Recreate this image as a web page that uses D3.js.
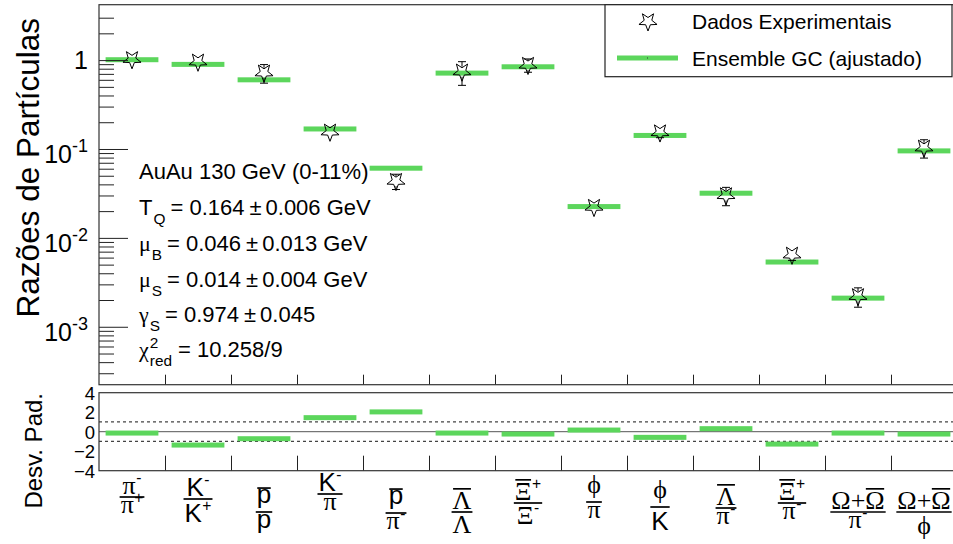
<!DOCTYPE html>
<html>
<head>
<meta charset="utf-8">
<script src="https://cdn.jsdelivr.net/npm/d3@7"></script>
<style>
  body { margin: 0; background: #fff; }
  svg { display: block; }
  text { font-family: "Liberation Sans", Arial, sans-serif; fill: #000; }
  .greek { font-family: "Liberation Serif", "Times New Roman", serif; }
</style>
</head>
<body>
<svg id="chart" width="953" height="544"></svg>
<script>
// ---- particle ratios (x categories), numerator / denominator pieces ----
const ratioNumerators = [
  [{ t: "π", g: 1, sup: "-" }],
  [{ t: "K", sup: "-" }],
  [{ t: "p", bar: 1 }],
  [{ t: "K", sup: "-" }],
  [{ t: "p", bar: 1 }],
  [{ t: "Λ", g: 1, bar: 1 }],
  [{ t: "Ξ", g: 1, bar: 1, sup: "+" }],
  [{ t: "ϕ", g: 1 }],
  [{ t: "ϕ", g: 1 }],
  [{ t: "Λ", g: 1, bar: 1 }],
  [{ t: "Ξ", g: 1, bar: 1, sup: "+" }],
  [{ t: "Ω", g: 1 }, { t: "+", g: 1 }, { t: "Ω", g: 1, bar: 1 }],
  [{ t: "Ω", g: 1 }, { t: "+", g: 1 }, { t: "Ω", g: 1, bar: 1 }]
];
const ratioDenominators = [
  [{ t: "π", g: 1, sup: "+" }],
  [{ t: "K", sup: "+" }],
  [{ t: "p" }],
  [{ t: "π", g: 1 }],
  [{ t: "π", g: 1, sup: "-" }],
  [{ t: "Λ", g: 1 }],
  [{ t: "Ξ", g: 1, sup: "-" }],
  [{ t: "π", g: 1 }],
  [{ t: "K" }],
  [{ t: "π", g: 1, sup: "-" }],
  [{ t: "π", g: 1, sup: "-" }],
  [{ t: "π", g: 1, sup: "-" }],
  [{ t: "ϕ", g: 1 }]
];

// ---- values ----
const modelRatios = [1.01, 0.895, 0.60, 0.168, 0.0608, 0.714, 0.841, 0.0225, 0.142, 0.0318, 0.00535, 0.0021, 0.0952];
const dataRatios  = [1.02, 0.957, 0.72, 0.156, 0.0435, 0.74, 0.88, 0.0222, 0.153, 0.030, 0.00644, 0.0022, 0.103];
const dataErrors  = [0.07, 0.045, 0.17, 0.008, 0.0085, 0.22, 0.15, 0.0018, 0.019, 0.007, 0.00086, 0.00054, 0.024];
const deviations  = [-0.14, -1.37, -0.72, 1.44, 2.03, -0.14, -0.24, 0.17, -0.58, 0.31, -1.27, -0.14, -0.24];

// ---- axis ticks ----
const logMajorTicks = [1, 0.1, 0.01, 0.001];
const logMajorExponents = ["", "-1", "-2", "-3"];
const devTickValues = [4, 2, 0, -2, -4];
const devBands = [1, -1];

// ---- fit summary text ----
const fitLines = [
  [{ t: "AuAu 130 GeV (0-11%)" }],
  [{ t: "T" }, { sub: "Q" }, { t: "= 0.164", gap: 5 }, { t: "±", gap: 5 }, { t: "0.006 GeV", gap: 4 }],
  [{ t: "μ", g: 1 }, { sub: "B" }, { t: "= 0.046", gap: 5 }, { t: "±", gap: 5 }, { t: "0.013 GeV", gap: 4 }],
  [{ t: "μ", g: 1 }, { sub: "S" }, { t: "= 0.014", gap: 5 }, { t: "±", gap: 5 }, { t: "0.004 GeV", gap: 4 }],
  [{ t: "γ", g: 1 }, { sub: "S" }, { t: "= 0.974", gap: 5 }, { t: "±", gap: 5 }, { t: "0.045", gap: 4 }],
  [{ t: "χ", g: 1 }, { sup: "2", sub: "red" }, { t: "= 10.258/9", gap: 6 }]
];

const legendEntries = ["Dados Experimentais", "Ensemble GC (ajustado)"];

// ---- layout ----
const GREEN = "#5cd65c";
const frame = { left: 99, right: 957, top: 4.7, bottom: 384.7 };
const pad2 = { top: 392.7, bottom: 470.7 };
const fracLineY = [497, 499, 512, 494, 513, 512, 503, 502, 507, 508, 503, 512, 512];

const svg = d3.select("#chart");
svg.append("rect").attr("width", 953).attr("height", 544).attr("fill", "#fff");

const n = modelRatios.length;
const x = d3.scaleBand().domain(d3.range(n)).range([frame.left, frame.right]).padding(0);
const xEdge = d3.scaleLinear().domain([0, n]).range([frame.left, frame.right]);
const y = d3.scaleLog().domain([2.23e-4, 4.2]).range([frame.bottom, frame.top]);
const yd = d3.scaleLinear().domain([-4, 4]).range([pad2.bottom, pad2.top]);
const bw = x.bandwidth();

// ---------- upper panel ----------
const upper = svg.append("g");

// model bars
upper.selectAll("rect.model").data(modelRatios).join("rect")
  .attr("class", "model")
  .attr("x", (d, i) => x(i) + 0.1 * bw)
  .attr("width", 0.8 * bw)
  .attr("y", d => y(d) - 2.5)
  .attr("height", 5)
  .attr("fill", GREEN);

// star marker (open, one point down)
function starPath(r) {
  const ri = r * 0.42, pts = [];
  for (let k = 0; k < 10; k++) {
    const a = Math.PI / 2 + k * Math.PI / 5;
    const rr = k % 2 === 0 ? r : ri;
    pts.push([rr * Math.cos(a), rr * Math.sin(a)]);
  }
  return "M" + pts.map(p => p[0].toFixed(2) + "," + p[1].toFixed(2)).join("L") + "Z";
}
const STAR = starPath(9.5);

// error bars, kept clear of the marker body
const gap = 5, cap = 4;
dataRatios.forEach((v, i) => {
  const cx = x(i) + bw / 2, cy = y(v);
  const yHi = y(v + dataErrors[i]), yLo = y(Math.max(v - dataErrors[i], 1e-6));
  const eg = upper.append("g").attr("stroke", "#000").attr("stroke-width", 1);
  if (cy - yHi > gap) {
    eg.append("line").attr("x1", cx).attr("x2", cx).attr("y1", cy - gap).attr("y2", yHi);
    eg.append("line").attr("x1", cx - cap).attr("x2", cx + cap).attr("y1", yHi).attr("y2", yHi);
  }
  if (yLo - cy > gap) {
    eg.append("line").attr("x1", cx).attr("x2", cx).attr("y1", cy + gap).attr("y2", yLo);
    eg.append("line").attr("x1", cx - cap).attr("x2", cx + cap).attr("y1", yLo).attr("y2", yLo);
  }
});

upper.selectAll("path.star").data(dataRatios).join("path")
  .attr("class", "star")
  .attr("d", STAR)
  .attr("transform", (d, i) => `translate(${x(i) + bw / 2},${y(d)})`)
  .attr("fill", "none").attr("stroke", "#000").attr("stroke-width", 1);

// log axis ticks (inside the frame)
const minorTicks = [];
for (let e = -4; e <= 0; e++) for (let m = 2; m <= 9; m++) {
  const v = m * Math.pow(10, e);
  if (v > y.domain()[0] && v < 3.5) minorTicks.push(v);
}
const axMinor = upper.append("g").attr("transform", `translate(${frame.left},0)`)
  .call(d3.axisRight(y).tickValues(minorTicks).tickSize(15).tickFormat(""));
const axMajor = upper.append("g").attr("transform", `translate(${frame.left},0)`)
  .call(d3.axisRight(y).tickValues(logMajorTicks).tickSize(29).tickFormat(""));
[axMinor, axMajor].forEach(a => {
  a.select(".domain").remove();
  a.selectAll("line").attr("stroke", "#222").attr("stroke-width", 1);
});

// major tick labels: 1, 10^-1, ...
logMajorTicks.forEach((v, i) => {
  const ty = y(v);
  if (!logMajorExponents[i]) {
    upper.append("text").attr("x", 88).attr("y", ty + 9)
      .attr("text-anchor", "end").attr("font-size", 25).text("1");
  } else {
    const t = upper.append("text").attr("x", 88).attr("y", ty + 14)
      .attr("text-anchor", "end").attr("font-size", 25);
    t.append("tspan").text("10");
    t.append("tspan").attr("font-size", 18).attr("dy", -11).text(logMajorExponents[i]);
  }
});

// bin-edge ticks on lower edge of upper panel
const axTopBins = upper.append("g").attr("transform", `translate(0,${frame.bottom})`)
  .call(d3.axisTop(xEdge).tickValues(d3.range(1, n)).tickSize(10).tickFormat(""));
axTopBins.select(".domain").remove();
axTopBins.selectAll("line").attr("stroke", "#222");

// frame
upper.append("rect").attr("x", frame.left).attr("y", frame.top)
  .attr("width", frame.right - frame.left).attr("height", frame.bottom - frame.top)
  .attr("fill", "none").attr("stroke", "#333").attr("stroke-width", 1.2);

// y title
svg.append("text")
  .attr("transform", "translate(39,18) rotate(-90)")
  .attr("text-anchor", "end").attr("font-size", 31.5)
  .text("Razões de Partículas");

// ---------- rich text helper ----------
function glyphTop(ch) {
  if ("πp".includes(ch)) return 0.48;
  if ("ϕ".includes(ch)) return 0.68;
  if ("ΛΞΩ".includes(ch)) return 0.66;
  return 0.72;
}
function glyphDrop(parts) {
  return parts.some(p => p.t && "pϕ".includes(p.t)) ? 0.21 : 0;
}
function richRow(g, parts, x0, base, fs) {
  let cx = x0;
  parts.forEach(p => {
    cx += p.gap || 0;
    if (p.t) {
      const el = g.append("text").attr("x", cx).attr("y", base).attr("font-size", fs)
        .attr("class", p.g ? "greek" : null).text(p.t);
      const w = el.node().getComputedTextLength();
      if (p.bar) {
        const ly = base - fs * glyphTop(p.t) - 2.5;
        g.append("line").attr("x1", cx + 0.5).attr("x2", cx + w - 0.5)
          .attr("y1", ly).attr("y2", ly).attr("stroke", "#000").attr("stroke-width", 1.7);
      }
      cx += w;
      if (p.sup) {
        const s = g.append("text").attr("x", cx + 0.5).attr("y", base - fs * 0.42)
          .attr("font-size", fs * 0.6).text(p.sup);
        cx += s.node().getComputedTextLength() + 0.5;
      }
    } else {
      // bare sub/superscript attached to the previous glyph
      let sw = 0;
      if (p.sup) {
        const s = g.append("text").attr("x", cx + 1).attr("y", base - fs * 0.42)
          .attr("font-size", fs * 0.7).text(p.sup);
        sw = Math.max(sw, s.node().getComputedTextLength() + 1);
      }
      if (p.sub) {
        const s = g.append("text").attr("x", cx + 1).attr("y", base + fs * 0.4)
          .attr("font-size", fs * 0.7).text(p.sub);
        sw = Math.max(sw, s.node().getComputedTextLength() + 1);
      }
      cx += sw;
    }
  });
  return cx - x0;
}

// fit summary
const info = svg.append("g");
const infoBase = [179, 215, 251, 287, 322, 357];
fitLines.forEach((parts, i) => richRow(info, parts, 139, infoBase[i], 22));

// legend
const leg = svg.append("g");
leg.append("rect").attr("x", 605).attr("y", frame.top).attr("width", 347).attr("height", 72)
  .attr("fill", "#fff").attr("stroke", "#222").attr("stroke-width", 1.2);
leg.append("path").attr("d", STAR).attr("transform", "translate(648,21.5)")
  .attr("fill", "none").attr("stroke", "#000");
leg.append("line").attr("x1", 617).attr("x2", 678).attr("y1", 58).attr("y2", 58)
  .attr("stroke", GREEN).attr("stroke-width", 5);
leg.append("rect").attr("x", 647).attr("y", 57.5).attr("width", 1).attr("height", 1).attr("fill", "#333");
leg.selectAll("text").data(legendEntries).join("text")
  .attr("x", 692).attr("y", (d, i) => [29, 65.5][i]).attr("font-size", 21).text(d => d);

// ---------- lower panel (standard deviations) ----------
const bot = svg.append("g");
bot.append("line").attr("x1", frame.left).attr("x2", frame.right)
  .attr("y1", yd(0)).attr("y2", yd(0)).attr("stroke", "#555").attr("stroke-width", 1);
bot.selectAll("line.band").data(devBands).join("line").attr("class", "band")
  .attr("x1", frame.left).attr("x2", frame.right)
  .attr("y1", d => yd(d)).attr("y2", d => yd(d))
  .attr("stroke", "#444").attr("stroke-width", 1.3).attr("stroke-dasharray", "3,3");
bot.selectAll("rect.dev").data(deviations).join("rect").attr("class", "dev")
  .attr("x", (d, i) => x(i) + 0.1 * bw).attr("width", 0.8 * bw)
  .attr("y", d => yd(d) - 2.5).attr("height", 5).attr("fill", GREEN);

const axBotBins = bot.append("g").attr("transform", `translate(0,${pad2.bottom})`)
  .call(d3.axisTop(xEdge).tickValues(d3.range(1, n)).tickSize(15).tickFormat(""));
axBotBins.select(".domain").remove();
axBotBins.selectAll("line").attr("stroke", "#222");

const axDev = bot.append("g").attr("transform", `translate(${frame.left},0)`)
  .call(d3.axisLeft(yd).tickValues(devTickValues).tickSize(0).tickPadding(4));
axDev.select(".domain").remove();
axDev.selectAll("text").attr("font-size", 18.5).attr("font-family", "Liberation Sans, Arial, sans-serif")
  .attr("fill", "#000").attr("dy", "0.36em");

bot.append("rect").attr("x", frame.left).attr("y", pad2.top)
  .attr("width", frame.right - frame.left).attr("height", pad2.bottom - pad2.top)
  .attr("fill", "none").attr("stroke", "#333").attr("stroke-width", 1.2);

svg.append("text")
  .attr("transform", "translate(42,393) rotate(-90)")
  .attr("text-anchor", "end").attr("font-size", 24)
  .text("Desv. Pad.");

// ---------- ratio labels as fractions ----------
const FS = 26;
ratioNumerators.forEach((num, i) => {
  const den = ratioDenominators[i];
  const cx = x(i) + bw / 2, ly = fracLineY[i];
  const g = svg.append("g");
  const gn = g.append("g"), gd = g.append("g");
  const nb = ly - 3.5 - FS * glyphDrop(num);
  const wn = richRow(gn, num, 0, nb, FS);
  const dTop = Math.max(...den.map(p => glyphTop(p.t)));
  const db = ly + 4 + FS * dTop;
  const wd = richRow(gd, den, 0, db, FS);
  gn.attr("transform", `translate(${cx - wn / 2},0)`);
  gd.attr("transform", `translate(${cx - wd / 2},0)`);
  const wl = Math.max(wn, wd) + 2;
  g.append("line").attr("x1", cx - wl / 2).attr("x2", cx + wl / 2)
    .attr("y1", ly).attr("y2", ly).attr("stroke", "#000").attr("stroke-width", 1.7);
});
</script>
</body>
</html>
